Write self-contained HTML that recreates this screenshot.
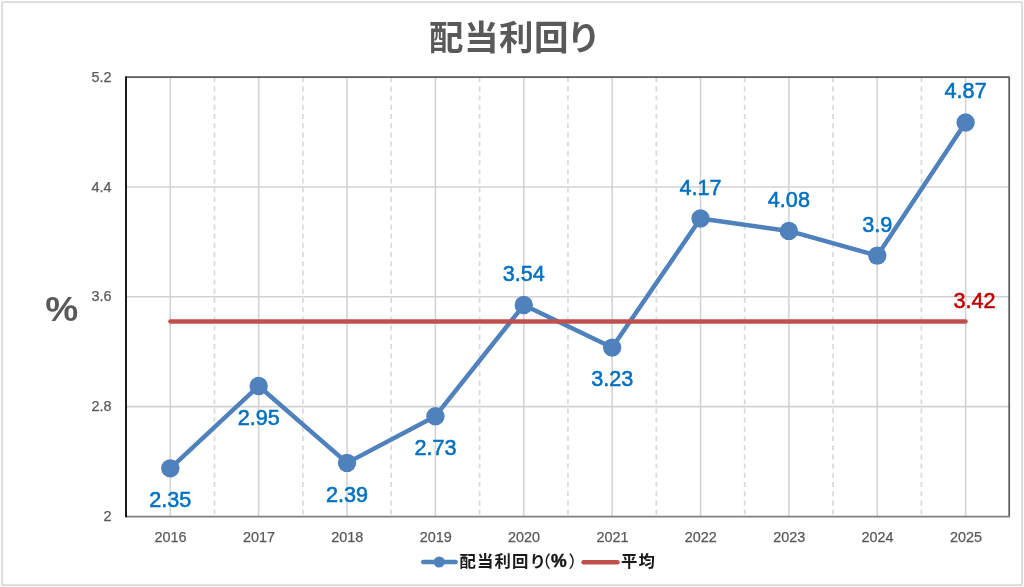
<!DOCTYPE html>
<html lang="ja">
<head>
<meta charset="utf-8">
<title>配当利回り</title>
<style>
html,body{margin:0;padding:0;background:#fff;}
body{width:1024px;height:587px;overflow:hidden;position:relative;font-family:"Liberation Sans","Noto Sans CJK JP",sans-serif;}
svg{position:absolute;left:0;top:0;display:block;}
text{font-family:"Liberation Sans","Noto Sans CJK JP",sans-serif;}
.ax{font-size:14.4px;fill:#595959;stroke:#595959;stroke-width:0.25px;}
.dl{font-size:21.6px;fill:#0070c0;text-anchor:middle;stroke:#0070c0;stroke-width:0.55px;}
.jp{font-family:"Liberation Sans","Noto Sans CJK JP",sans-serif;font-weight:bold;}
</style>
</head>
<body>
<svg width="1024" height="587" viewBox="0 0 1024 587">
<rect x="0" y="0" width="1024" height="587" fill="#ffffff"/>
<rect x="2" y="2.1" width="1020.1" height="583" rx="1" fill="#ffffff" stroke="#dadada" stroke-width="1.8"/>

<g stroke="#d3d3d3" stroke-width="1.6" fill="none">
<line x1="126.0" y1="406.60" x2="1009.2" y2="406.60"/>
<line x1="126.0" y1="296.80" x2="1009.2" y2="296.80"/>
<line x1="126.0" y1="187.00" x2="1009.2" y2="187.00"/>
<line x1="170.30" y1="77.2" x2="170.30" y2="516.4"/>
<line x1="258.67" y1="77.2" x2="258.67" y2="516.4"/>
<line x1="347.04" y1="77.2" x2="347.04" y2="516.4"/>
<line x1="435.41" y1="77.2" x2="435.41" y2="516.4"/>
<line x1="523.78" y1="77.2" x2="523.78" y2="516.4"/>
<line x1="612.15" y1="77.2" x2="612.15" y2="516.4"/>
<line x1="700.52" y1="77.2" x2="700.52" y2="516.4"/>
<line x1="788.89" y1="77.2" x2="788.89" y2="516.4"/>
<line x1="877.26" y1="77.2" x2="877.26" y2="516.4"/>
<line x1="965.63" y1="77.2" x2="965.63" y2="516.4"/>
</g>
<g stroke="#d9d9d9" stroke-width="1.7" fill="none" stroke-dasharray="5 4.2">
<line x1="214.49" y1="77.2" x2="214.49" y2="516.4"/>
<line x1="302.86" y1="77.2" x2="302.86" y2="516.4"/>
<line x1="391.23" y1="77.2" x2="391.23" y2="516.4"/>
<line x1="479.60" y1="77.2" x2="479.60" y2="516.4"/>
<line x1="567.96" y1="77.2" x2="567.96" y2="516.4"/>
<line x1="656.34" y1="77.2" x2="656.34" y2="516.4"/>
<line x1="744.70" y1="77.2" x2="744.70" y2="516.4"/>
<line x1="833.08" y1="77.2" x2="833.08" y2="516.4"/>
<line x1="921.44" y1="77.2" x2="921.44" y2="516.4"/>
</g>
<line x1="126.0" y1="77.2" x2="1009.2" y2="77.2" stroke="#5a5a5a" stroke-width="1.8" stroke-linecap="round"/>
<line x1="1009.2" y1="77.2" x2="1009.2" y2="516.4" stroke="#5a5a5a" stroke-width="1.7"/>
<line x1="125.5" y1="516.6" x2="1010.0" y2="516.6" stroke="#808080" stroke-width="1.8"/>
<line x1="126.0" y1="77.2" x2="126.0" y2="516.4" stroke="#000000" stroke-width="1.8" stroke-linecap="round"/>
<polyline points="170.30,468.36 258.67,386.01 347.04,462.87 435.41,416.21 523.78,305.03 612.15,347.58 700.52,218.57 788.89,230.92 877.26,255.62 965.63,122.49" fill="none" stroke="#4f81bd" stroke-width="4.5" stroke-linejoin="round" stroke-linecap="round"/>
<g fill="#4f81bd">
<circle cx="170.30" cy="468.36" r="9.2"/>
<circle cx="258.67" cy="386.01" r="9.2"/>
<circle cx="347.04" cy="462.87" r="9.2"/>
<circle cx="435.41" cy="416.21" r="9.2"/>
<circle cx="523.78" cy="305.03" r="9.2"/>
<circle cx="612.15" cy="347.58" r="9.2"/>
<circle cx="700.52" cy="218.57" r="9.2"/>
<circle cx="788.89" cy="230.92" r="9.2"/>
<circle cx="877.26" cy="255.62" r="9.2"/>
<circle cx="965.63" cy="122.49" r="9.2"/>
</g>
<line x1="170.30" y1="321.50" x2="965.63" y2="321.50" stroke="#c0504d" stroke-width="4.3" stroke-linecap="round"/>
<text class="dl" x="170.30" y="507.11">2.35</text>
<text class="dl" x="258.67" y="424.76">2.95</text>
<text class="dl" x="347.04" y="501.62">2.39</text>
<text class="dl" x="435.41" y="454.96">2.73</text>
<text class="dl" x="523.78" y="280.98">3.54</text>
<text class="dl" x="612.15" y="386.33">3.23</text>
<text class="dl" x="700.52" y="194.52">4.17</text>
<text class="dl" x="788.89" y="206.87">4.08</text>
<text class="dl" x="877.26" y="231.57">3.9</text>
<text class="dl" x="965.63" y="98.44">4.87</text>
<text class="dl" style="fill:#c00000;stroke:#c00000" x="974.6" y="307.50">3.42</text>
<text class="ax" text-anchor="middle" x="170.60" y="541.75">2016</text>
<text class="ax" text-anchor="middle" x="258.97" y="541.75">2017</text>
<text class="ax" text-anchor="middle" x="347.34" y="541.75">2018</text>
<text class="ax" text-anchor="middle" x="435.71" y="541.75">2019</text>
<text class="ax" text-anchor="middle" x="524.08" y="541.75">2020</text>
<text class="ax" text-anchor="middle" x="612.45" y="541.75">2021</text>
<text class="ax" text-anchor="middle" x="700.82" y="541.75">2022</text>
<text class="ax" text-anchor="middle" x="789.19" y="541.75">2023</text>
<text class="ax" text-anchor="middle" x="877.56" y="541.75">2024</text>
<text class="ax" text-anchor="middle" x="965.93" y="541.75">2025</text>
<text class="ax" text-anchor="end" x="111.4" y="520.95">2</text>
<text class="ax" text-anchor="end" x="111.4" y="411.15">2.8</text>
<text class="ax" text-anchor="end" x="111.4" y="301.35">3.6</text>
<text class="ax" text-anchor="end" x="111.4" y="191.55">4.4</text>
<text class="ax" text-anchor="end" x="111.4" y="81.75">5.2</text>
<text transform="translate(61.6 321.3) scale(1.075 1.01)" x="0" y="0" text-anchor="middle" style="font-size:34.5px;font-weight:bold;fill:#595959">%</text>
<text class="jp" x="429" y="49.8" style="font-size:34.5px;fill:#595959;letter-spacing:0.5px">配当利回<tspan dx="-2.4">り</tspan></text>
<line x1="423.3" y1="562" x2="455.6" y2="562" stroke="#4f81bd" stroke-width="4.6" stroke-linecap="round"/>
<circle cx="439.2" cy="562" r="5.6" fill="#4f81bd"/>
<text class="jp" y="567.1" style="font-size:16.4px;fill:#1a1a1a;letter-spacing:1.1px"><tspan x="459.5">配当利回り</tspan><tspan x="534.4" style="font-weight:500;letter-spacing:0">（</tspan><tspan x="551" style="font-size:17.6px;letter-spacing:0;stroke:#1a1a1a;stroke-width:0.5px">%</tspan><tspan x="568.6" style="font-weight:500;letter-spacing:0">）</tspan></text>
<line x1="583.5" y1="562.2" x2="617.5" y2="562.2" stroke="#c0504d" stroke-width="4.4" stroke-linecap="round"/>
<text class="jp" x="621" y="567.1" style="font-size:16.4px;fill:#1a1a1a;letter-spacing:1.1px">平均</text>
</svg>
</body>
</html>
